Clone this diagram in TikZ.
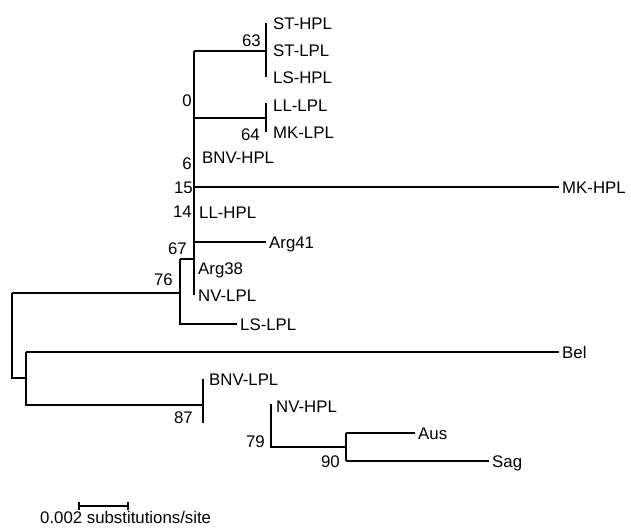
\documentclass[tikz,border=0pt]{standalone}
\usepackage{fontspec}
\setmainfont{Liberation Sans}
\tikzset{
  branch/.style={line width=1.1pt},
  taxon/.style={anchor=west, inner xsep=3pt, inner ysep=0pt, text height=12pt, text depth=0pt},
  boot/.style={anchor=east, inner sep=0pt, text height=12pt, text depth=0pt},
}
\begin{document}
\begin{tikzpicture}[x=1pt, y=-1pt, font=\fontsize{16.8}{18}\selectfont]
  \useasboundingbox (0,0) rectangle (631,528);

  % internal nodes
  \coordinate (n63) at (266,51);
  \coordinate (n64) at (266,118);
  \coordinate (n0) at (194,51);
  \coordinate (n67) at (194,259);
  \coordinate (spineend) at (194,295);
  \coordinate (n76) at (180,293);
  \coordinate (root) at (12,293);
  \coordinate (nb) at (26,378);
  \coordinate (n87) at (203,405);
  \coordinate (n79) at (271,447);
  \coordinate (n90) at (346,447);

  % taxa
  \node[taxon] (sthpl) at (270,23) {ST-HPL};
  \node[taxon] (stlpl) at (270,50) {ST-LPL};
  \node[taxon] (lshpl) at (270,77) {LS-HPL};
  \node[taxon] (lllpl) at (270,105) {LL-LPL};
  \node[taxon] (mklpl) at (270,132) {MK-LPL};
  \node[taxon] (bnvhpl) at (199,157) {BNV-HPL};
  \node[taxon] (mkhpl) at (559,187) {MK-HPL};
  \node[taxon] (llhpl) at (196,212) {LL-HPL};
  \node[taxon] (arg41) at (266,242) {Arg41};
  \node[taxon] (arg38) at (195,268) {Arg38};
  \node[taxon] (nvlpl) at (195,295) {NV-LPL};
  \node[taxon] (lslpl) at (237,324) {LS-LPL};
  \node[taxon] (bel) at (559,352) {Bel};
  \node[taxon] (bnvlpl) at (206,379) {BNV-LPL};
  \node[taxon] (nvhpl) at (273,406) {NV-HPL};
  \node[taxon] (aus) at (415,433) {Aus};
  \node[taxon] (sag) at (489,461) {Sag};

  % bootstrap values
  \node[boot] (b63) at (261,40) {63};
  \node[boot] (b0) at (192,100) {0};
  \node[boot] (b64) at (260,134) {64};
  \node[boot] (b6) at (192,163) {6};
  \node[boot] (b15) at (193,187) {15};
  \node[boot] (b14) at (192,211) {14};
  \node[boot] (b67) at (187,248) {67};
  \node[boot] (b76) at (173,279) {76};
  \node[boot] (b87) at (193,417) {87};
  \node[boot] (b79) at (265,441) {79};
  \node[boot] (b90) at (340,461) {90};

  % upper clade
  \draw[branch] (n0) -- (spineend);
  \draw[branch] ([xshift=0.7pt]n0 |- bnvhpl) -- ([xshift=0.7pt]n0 |- arg41);
  \draw[branch] (n0) -- (n63);
  \draw[branch] (n63 |- sthpl) -- (n63 |- lshpl);
  \draw[branch] (n0 |- n64) -- (n64);
  \draw[branch] ([yshift=2pt]n64 |- lllpl) -- (n64 |- mklpl);
  \draw[branch] (n0 |- mkhpl) -- (mkhpl.west);
  \draw[branch] (n0 |- arg41) -- (arg41.west);
  \draw[branch] (n76 |- n67) -- (n67);
  \draw[branch] (n76 |- n67) -- (n76 |- lslpl) -- (lslpl.west);

  % lower clade
  \draw[branch] (root) -- (n76);
  \draw[branch] (root) -- (root |- nb) -- (nb);
  \draw[branch] (nb |- bel) -- (bel.west);
  \draw[branch] (nb |- bel) -- (nb |- n87) -- (n87);
  \draw[branch] (n87 |- bnvlpl) -- (n87 |- b87.south);
  \draw[branch] ([yshift=2pt]n79 |- nvhpl) -- (n79) -- (n90);
  \draw[branch] (n90 |- aus) -- (n90 |- sag);
  \draw[branch] (n90 |- aus) -- (aus.west);
  \draw[branch] (n90 |- sag) -- (sag.west);

  % scale bar
  \coordinate (sbl) at (79,506);
  \coordinate (sbr) at (128,506);
  \draw[branch] (sbl) -- (sbr);
  \draw[branch] ([yshift=-4pt]sbl) -- ([yshift=4pt]sbl);
  \draw[branch] ([yshift=-4pt]sbr) -- ([yshift=4pt]sbr);
  \node[anchor=base west, inner sep=0pt] (sblabel) at (40,523) {0.002 substitutions/site};
\end{tikzpicture}
\end{document}
